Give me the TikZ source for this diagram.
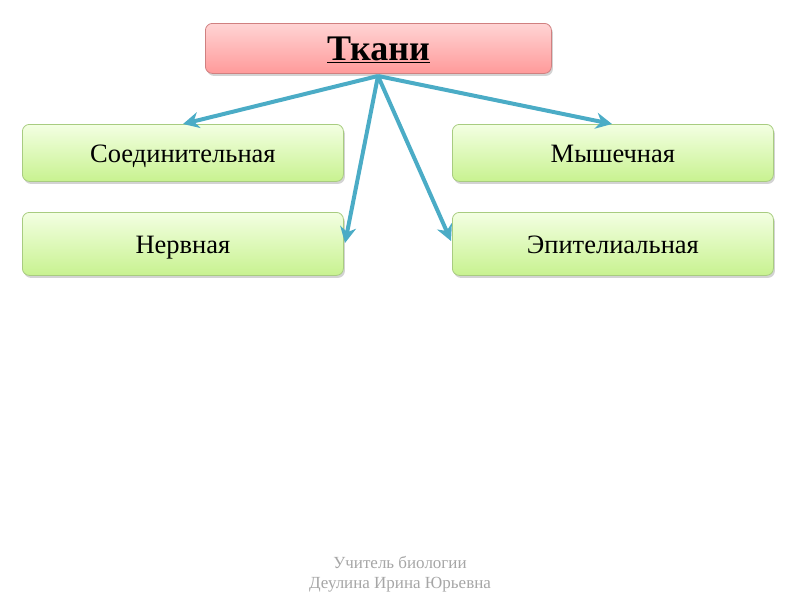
\documentclass[tikz,border=0pt]{standalone}
\usepackage{fontspec}
\setmainfont{Liberation Serif}
\usetikzlibrary{shadows,arrows.meta}
\definecolor{arrowc}{HTML}{4BACC6}
\definecolor{pinkt}{HTML}{FFD4D4}
\definecolor{pinkb}{HTML}{FF9A9A}
\definecolor{pinkd}{HTML}{D08080}
\definecolor{greent}{HTML}{F3FFE2}
\definecolor{greenb}{HTML}{C8F290}
\definecolor{greend}{HTML}{A8CC80}
\definecolor{footc}{HTML}{A6A6A6}
\tikzset{
  box/.style={rounded corners=7pt, anchor=north west, inner sep=0pt,
    drop shadow={shadow xshift=1.5pt, shadow yshift=-2.5pt, opacity=0.35},
    line width=0.8pt, text depth=0pt},
  topbox/.style={box, draw=pinkd, top color=pinkt, bottom color=pinkb, text height=24pt,
    minimum width=346pt, minimum height=50pt, font=\fontsize{36}{40}\selectfont\bfseries},
  leaf/.style={box, draw=greend, top color=greent, bottom color=greenb, text height=20pt,
    minimum width=321pt, minimum height=57pt, font=\fontsize{26.5}{30}\selectfont},
  conn/.style={draw=arrowc, line width=4pt, -{Stealth[length=16pt,width=16pt,inset=5pt]}},
  foot/.style={text=footc, anchor=base, inner sep=0pt, font=\fontsize{17}{19}\selectfont}
}
\begin{document}
\begin{tikzpicture}[x=1pt,y=-1pt]
\useasboundingbox (0,0) rectangle (800,600);
\node[topbox] (top) at (205,23) {\underline{Ткани}};
\node[leaf] (soed) at (22,124) {Соединительная};
\node[leaf, minimum height=63pt] (nerv) at (22,212) {Нервная};
\node[leaf] (mysh) at (452,124) {Мышечная};
\node[leaf, minimum height=63pt] (epit) at (452,212) {Эпителиальная};
\coordinate (src) at (378,76);
\coordinate (t1) at (183,124);
\coordinate (t2) at (612,124);
\coordinate (t3) at (345,243);
\coordinate (t4) at (451,241);
\draw[conn] (src) -- (t1);
\draw[conn] (src) -- (t2);
\draw[conn] (src) -- (t3);
\draw[conn] (src) -- (t4);
\node[foot] (f1) at (400,568.5) {Учитель биологии};
\node[foot] (f2) at (400,588.5) {Деулина Ирина Юрьевна};
\end{tikzpicture}
\end{document}
